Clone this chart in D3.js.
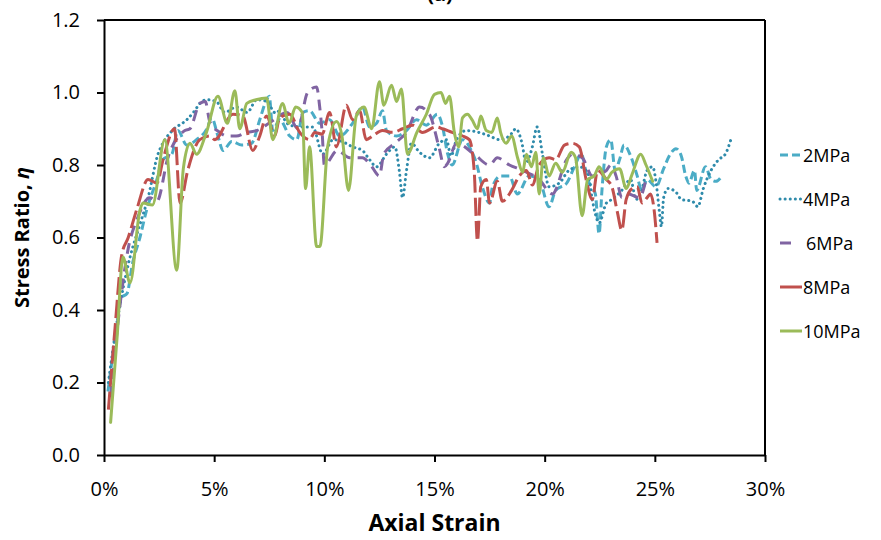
<!DOCTYPE html>
<html>
<head>
<meta charset="utf-8">
<script src="https://cdn.jsdelivr.net/npm/d3@7/dist/d3.min.js"></script>
<style>
    body { margin: 0; background: #fff; }
    .chart text { fill: #000; }
    .axis path, .axis line { stroke: #000; stroke-width: 2; }
    .axis text { font-family: "Open Sans", sans-serif; font-size: 20px; }
    .title { font-family: "Open Sans", sans-serif; font-weight: bold; font-size: 20px; }
    .legend text { font-family: "Open Sans", sans-serif; font-size: 18px; }
</style>
</head>
<body>
<svg class="chart"></svg>
<script>
    // strain (%) and stress ratio per confining pressure
    var strain2 = [0.18, 0.5, 0.8, 1.04, 1.3, 1.63, 1.93, 2.4, 2.67, 3.08, 3.35, 3.76, 4.2, 4.67, 4.89, 5.17, 5.4, 5.8, 6.25, 6.7, 7.07, 7.38, 7.5, 7.66, 7.97, 8.43, 8.75, 9.03, 9.33, 9.79, 10.24, 10.7, 11.28, 11.73, 12.05, 12.37, 12.64, 12.82, 13.28, 13.73, 14.18, 14.63, 15.13, 15.35, 15.6, 15.8, 16.27, 16.67, 16.9, 17.17, 17.5, 17.63, 18.0, 18.4, 18.76, 19.3, 19.75, 20.2, 20.5, 21.0, 21.35, 21.66, 21.95, 22.3, 22.47, 22.6, 22.8, 23.0, 23.2, 23.4, 23.6, 23.9, 24.2, 24.4, 24.65, 25.05, 25.4, 25.7, 25.96, 26.2, 26.4, 26.55, 26.8, 26.9, 27.3, 27.55, 27.77, 28.05];
    var ratio2 = [0.175, 0.32, 0.435, 0.445, 0.53, 0.6, 0.675, 0.76, 0.815, 0.83, 0.895, 0.855, 0.87, 0.9, 0.93, 0.88, 0.84, 0.865, 0.855, 0.86, 0.925, 0.98, 0.99, 0.895, 0.925, 0.88, 0.87, 0.945, 0.95, 0.915, 0.925, 0.88, 0.915, 0.96, 0.905, 0.915, 0.95, 0.895, 0.88, 0.895, 0.925, 0.91, 0.94, 0.91, 0.83, 0.8, 0.87, 0.84, 0.805, 0.74, 0.695, 0.74, 0.77, 0.77, 0.72, 0.77, 0.76, 0.685, 0.73, 0.75, 0.795, 0.83, 0.76, 0.72, 0.61, 0.73, 0.85, 0.87, 0.785, 0.815, 0.855, 0.825, 0.77, 0.73, 0.76, 0.74, 0.79, 0.83, 0.845, 0.825, 0.77, 0.75, 0.785, 0.73, 0.795, 0.76, 0.755, 0.77];

    var strain4 = [0.2, 0.6, 0.9, 1.2, 1.6, 2.0, 2.45, 2.67, 3.1, 3.76, 4.12, 4.35, 4.67, 5.1, 5.48, 6.0, 6.5, 6.93, 7.4, 7.75, 7.83, 8.43, 9.0, 9.47, 9.93, 10.4, 10.8, 11.28, 11.73, 12.05, 12.37, 12.82, 13.2, 13.4, 13.55, 13.73, 13.95, 14.32, 14.77, 15.22, 15.54, 15.75, 16.0, 16.44, 17.0, 17.5, 17.95, 18.4, 18.7, 18.95, 19.17, 19.44, 19.66, 19.9, 20.2, 20.66, 21.1, 21.57, 21.95, 22.16, 22.3, 22.47, 22.8, 23.05, 23.5, 23.9, 24.15, 24.4, 24.65, 24.9, 25.05, 25.2, 25.3, 25.4, 25.6, 25.96, 26.2, 26.7, 26.95, 27.2, 27.55, 27.9, 28.2, 28.45];
    var ratio4 = [0.2, 0.37, 0.47, 0.55, 0.63, 0.71, 0.83, 0.86, 0.895, 0.925, 0.95, 0.97, 0.98, 0.975, 0.945, 0.96, 0.945, 0.98, 0.975, 0.945, 0.95, 0.91, 0.905, 0.905, 0.83, 0.87, 0.865, 0.85, 0.84, 0.815, 0.795, 0.83, 0.85, 0.785, 0.71, 0.785, 0.86, 0.835, 0.82, 0.86, 0.87, 0.825, 0.87, 0.895, 0.89, 0.88, 0.87, 0.88, 0.9, 0.865, 0.805, 0.85, 0.905, 0.83, 0.74, 0.75, 0.785, 0.795, 0.78, 0.705, 0.665, 0.64, 0.695, 0.705, 0.73, 0.76, 0.705, 0.73, 0.785, 0.795, 0.755, 0.675, 0.63, 0.71, 0.735, 0.725, 0.705, 0.7, 0.685, 0.735, 0.785, 0.815, 0.83, 0.87];

    var strain6 = [0.3, 0.7, 1.1, 1.5, 2.08, 2.4, 2.9, 3.67, 3.9, 4.35, 4.6, 4.8, 5.25, 5.57, 6.0, 6.48, 6.93, 7.6, 8.3, 8.8, 9.24, 9.65, 9.79, 9.9, 10.0, 10.6, 11.15, 11.73, 12.1, 12.5, 12.7, 13.2, 13.73, 14.32, 14.77, 15.2, 15.45, 15.6, 16.0, 16.8, 17.5, 17.85, 18.4, 19.0, 19.75, 20.35, 21.0, 21.25, 21.7, 22.16, 22.8, 23.0, 23.24, 23.5, 23.8, 24.3, 24.6];
    var ratio6 = [0.16, 0.4, 0.57, 0.65, 0.71, 0.7, 0.82, 0.895, 0.9, 0.97, 0.975, 0.92, 0.89, 0.88, 0.88, 0.89, 0.895, 0.92, 0.945, 0.9, 1.0, 1.015, 0.96, 0.89, 0.8, 0.84, 0.82, 0.82, 0.8, 0.77, 0.83, 0.86, 0.89, 0.96, 0.94, 0.85, 0.795, 0.805, 0.86, 0.83, 0.8, 0.82, 0.8, 0.785, 0.76, 0.72, 0.815, 0.83, 0.82, 0.77, 0.785, 0.8, 0.77, 0.71, 0.72, 0.71, 0.76];

    var strain8 = [0.2, 0.5, 0.8, 1.1, 1.5, 2.0, 2.4, 2.7, 3.2, 3.45, 3.8, 4.35, 4.8, 5.03, 5.85, 6.3, 6.75, 7.07, 7.38, 7.75, 7.97, 8.43, 8.88, 9.33, 9.56, 9.9, 10.24, 10.55, 11.0, 11.28, 11.6, 11.9, 12.19, 12.64, 13.1, 13.55, 14.0, 14.45, 15.08, 15.36, 15.8, 16.27, 16.58, 16.8, 16.95, 17.1, 17.35, 17.5, 17.85, 18.08, 18.5, 18.85, 19.17, 19.44, 19.75, 20.2, 20.5, 20.9, 21.25, 21.57, 21.88, 22.16, 22.4, 22.8, 23.05, 23.3, 23.5, 23.7, 23.97, 24.2, 24.42, 24.65, 24.8, 24.97, 25.1];
    var ratio8 = [0.125, 0.35, 0.55, 0.6, 0.68, 0.76, 0.75, 0.82, 0.9, 0.695, 0.785, 0.87, 0.88, 0.87, 0.94, 0.935, 0.84, 0.88, 0.935, 0.88, 0.93, 0.94, 0.89, 0.87, 0.89, 0.885, 0.945, 0.85, 0.965, 0.925, 0.95, 0.87, 0.88, 0.895, 0.89, 0.9, 0.91, 0.89, 0.905, 0.9, 0.89, 0.88, 0.87, 0.785, 0.59, 0.74, 0.76, 0.695, 0.755, 0.7, 0.73, 0.77, 0.785, 0.745, 0.8, 0.82, 0.815, 0.855, 0.86, 0.85, 0.76, 0.705, 0.785, 0.76, 0.74, 0.67, 0.62, 0.705, 0.735, 0.74, 0.695, 0.71, 0.72, 0.675, 0.585];

    var strain10 = [0.3, 0.6, 0.86, 1.18, 1.63, 1.77, 2.2, 2.76, 3.3, 3.6, 3.9, 4.2, 4.65, 5.17, 5.6, 5.94, 6.16, 6.48, 6.9, 7.38, 7.66, 8.1, 8.4, 8.7, 9.0, 9.15, 9.33, 9.65, 9.8, 10.15, 10.55, 10.8, 11.1, 11.45, 11.8, 12.15, 12.5, 12.7, 13.05, 13.28, 13.5, 13.77, 14.2, 14.63, 15.0, 15.3, 15.5, 15.68, 15.9, 16.1, 16.27, 16.5, 16.7, 16.95, 17.1, 17.35, 17.6, 17.85, 18.0, 18.25, 18.5, 18.77, 19.0, 19.17, 19.4, 19.6, 19.75, 19.94, 20.2, 20.5, 20.8, 21.2, 21.4, 21.7, 21.95, 22.25, 22.47, 22.8, 23.05, 23.4, 23.7, 23.97, 24.36, 24.6, 24.9];
    var ratio10 = [0.09, 0.33, 0.546, 0.475, 0.675, 0.695, 0.69, 0.87, 0.51, 0.79, 0.86, 0.83, 0.89, 0.99, 0.915, 1.005, 0.9, 0.97, 0.98, 0.985, 0.87, 0.97, 0.915, 0.96, 0.945, 0.735, 0.85, 0.575, 0.575, 0.85, 0.92, 0.88, 0.73, 0.935, 0.96, 0.9, 1.03, 0.965, 1.02, 0.975, 1.01, 0.83, 0.89, 0.94, 0.995, 1.0, 0.97, 0.99, 0.89, 0.85, 0.93, 0.94, 0.925, 0.9, 0.935, 0.895, 0.89, 0.93, 0.89, 0.86, 0.88, 0.82, 0.78, 0.83, 0.795, 0.835, 0.72, 0.82, 0.77, 0.805, 0.78, 0.835, 0.82, 0.66, 0.76, 0.77, 0.795, 0.76, 0.78, 0.79, 0.735, 0.775, 0.83, 0.8, 0.755];

    var seriesNames = ["2MPa", "4MPa", "6MPa", "8MPa", "10MPa"];
    var strainTicks = [0, 5, 10, 15, 20, 25, 30];
    var ratioTicks = [0, 0.2, 0.4, 0.6, 0.8, 1.0, 1.2];

    var width = 881;
    var height = 540;
    var plotLeft = 104, plotRight = 765, plotTop = 20, plotBottom = 455;

    var chart = d3.select(".chart")
        .attr("width", width)
        .attr("height", height);

    var scaleX = d3.scaleLinear().domain([0, 30]).range([plotLeft, plotRight]);
    var scaleY = d3.scaleLinear().domain([0, 1.2]).range([plotBottom, plotTop]);

    var styles = [
        { color: "#4bacc6", dash: "8 4", cap: "butt", legendDash: "8 4", legendLen: 22 },
        { color: "#2f8bab", dash: "0.1 5", cap: "round", legendDash: "0.1 5", legendLen: 22 },
        { color: "#8064a2", dash: "11 7", cap: "butt", legendDash: null, legendLen: 11 },
        { color: "#c0504d", dash: "18 5", cap: "butt", legendDash: null, legendLen: 22 },
        { color: "#9bbb59", dash: null, cap: "round", legendDash: null, legendLen: 22 }
    ];

    var xs = [strain2, strain4, strain6, strain8, strain10];
    var ys = [ratio2, ratio4, ratio6, ratio8, ratio10];

    var line = d3.line()
        .x(function (d) { return scaleX(d[0]); })
        .y(function (d) { return scaleY(d[1]); })
        .curve(d3.curveMonotoneX);

    for (var j = 0; j < seriesNames.length; j++) {
        var pts = xs[j].map(function (x, i) { return [x, ys[j][i]]; });
        chart.append("path")
            .datum(pts)
            .attr("d", line)
            .attr("fill", "none")
            .attr("stroke", styles[j].color)
            .attr("stroke-width", 3)
            .attr("stroke-linecap", styles[j].cap)
            .attr("stroke-linejoin", "round")
            .attr("stroke-dasharray", styles[j].dash);
    }

    // frame: top and right
    chart.append("line")
        .attr("x1", plotLeft).attr("x2", plotRight).attr("y1", plotTop).attr("y2", plotTop)
        .attr("stroke", "#000").attr("stroke-width", 2);
    chart.append("line")
        .attr("x1", plotRight).attr("x2", plotRight).attr("y1", plotTop).attr("y2", plotBottom)
        .attr("stroke", "#000").attr("stroke-width", 2);

    //X-Axis
    chart.append("g")
        .attr("class", "axis")
        .attr("transform", "translate(0," + plotBottom + ")")
        .call(d3.axisBottom(scaleX).tickValues(strainTicks).tickSize(7).tickSizeOuter(0).tickPadding(20)
            .tickFormat(function (d) { return d + "%"; }));

    //Y-Axis
    chart.append("g")
        .attr("class", "axis")
        .attr("transform", "translate(" + plotLeft + ",0)")
        .call(d3.axisLeft(scaleY).tickValues(ratioTicks).tickSize(7).tickSizeOuter(0).tickPadding(17)
            .tickFormat(d3.format(".1f")));

    // titles
    chart.append("text")
        .attr("class", "title")
        .attr("x", 440).attr("y", 1)
        .attr("text-anchor", "middle")
        .text("(a)");

    chart.append("text")
        .attr("class", "title")
        .attr("x", (plotLeft + plotRight) / 2).attr("y", 531)
        .attr("text-anchor", "middle")
        .style("font-size", "23px")
        .text("Axial Strain");

    var yTitle = chart.append("text")
        .attr("class", "title")
        .attr("transform", "translate(29," + ((plotTop + plotBottom) / 2) + ") rotate(-90)")
        .attr("text-anchor", "middle");
    yTitle.append("tspan").text("Stress Ratio, ");
    yTitle.append("tspan").attr("font-style", "italic").text("η");

    // legend
    var legend = chart.append("g").attr("class", "legend");
    for (var k = 0; k < seriesNames.length; k++) {
        var ly = 155 + k * 44;
        legend.append("line")
            .attr("x1", 780).attr("x2", 780 + styles[k].legendLen)
            .attr("y1", ly).attr("y2", ly)
            .attr("stroke", styles[k].color)
            .attr("stroke-width", 3)
            .attr("stroke-linecap", k === 1 ? "round" : "butt")
            .attr("stroke-dasharray", styles[k].legendDash);
        legend.append("text")
            .attr("x", k === 2 ? 806 : 803).attr("y", ly + 6.5)
            .text(seriesNames[k]);
    }
</script>
</body>
</html>
